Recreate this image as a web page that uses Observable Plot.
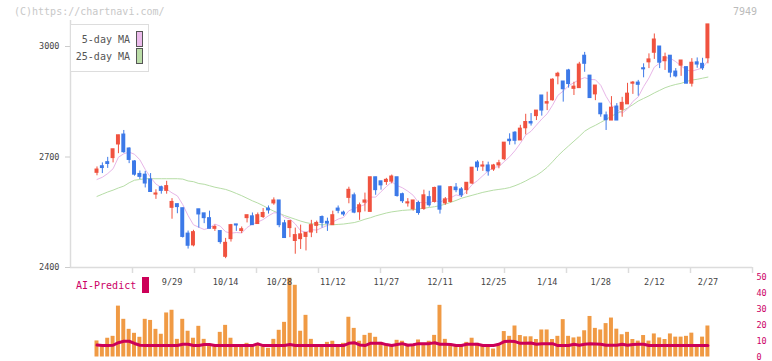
<!DOCTYPE html>
<html><head><meta charset="utf-8">
<script src="https://cdn.jsdelivr.net/npm/d3@7"></script>
<script src="https://cdn.jsdelivr.net/npm/@observablehq/plot@0.6"></script>
<style>
body{margin:0;background:#fff;}
#wrap{position:relative;width:772px;height:361px;overflow:hidden;background:#fff;font-family:"DejaVu Sans Mono",monospace;}
#wrap svg{position:absolute;left:0;overflow:visible;}
.abs{position:absolute;white-space:nowrap;line-height:1;}
</style></head><body><div id="wrap"></div>
<script>
const dates = ["9/5","9/8","9/9","9/10","9/11","9/12","9/16","9/17","9/18","9/19","9/22","9/24","9/25","9/26","9/29",
"9/30","10/1","10/2","10/3","10/6","10/7","10/8","10/9","10/10","10/14",
"10/15","10/16","10/17","10/20","10/21","10/22","10/23","10/24","10/27","10/28",
"10/29","10/30","10/31","11/4","11/5","11/6","11/7","11/10","11/11","11/12",
"11/13","11/14","11/17","11/18","11/19","11/20","11/21","11/25","11/26","11/27",
"11/28","12/1","12/2","12/3","12/4","12/5","12/8","12/9","12/10","12/11",
"12/12","12/15","12/16","12/17","12/18","12/19","12/22","12/23","12/24","12/25",
"12/26","12/29","12/30","1/5","1/6","1/7","1/8","1/9","1/13","1/14",
"1/15","1/16","1/19","1/20","1/21","1/22","1/23","1/26","1/27","1/28",
"1/29","1/30","2/2","2/3","2/4","2/5","2/6","2/9","2/10","2/12",
"2/13","2/16","2/17","2/18","2/19","2/20","2/24","2/25","2/26","2/27"];
const labelDates = ["9/29","10/14","10/28","11/12","11/27","12/11","12/25","1/14","1/28","2/12","2/27"];

const open = [2657,2675,2686,2697,2734,2761,2723,2688,2654,2652,2639,2598,2618,2608,2562,
2572,2561,2492,2460,2558,2547,2534,2505,2499,2429,
2477,2517,2499,2534,2539,2518,2537,2560,2574,2582,
2520,2507,2472,2477,2483,2495,2513,2537,2524,2515,
2560,2549,2589,2596,2550,2576,2551,2645,2634,2632,
2633,2645,2599,2574,2558,2575,2559,2591,2578,2620,
2574,2578,2617,2612,2610,2628,2685,2674,2677,2666,
2677,2694,2747,2766,2745,2778,2795,2811,2867,2845,
2854,2919,2905,2935,2885,2887,2975,2921,2870,2845,
2813,2799,2837,2828,2843,2899,2902,2941,2957,2983,
3000,2960,2975,2932,2948,2944,2899,2957,2953,2968];
const high = [2673,2684,2699,2721,2759,2772,2725,2690,2662,2661,2655,2611,2621,2634,2587,
2572,2561,2499,2501,2558,2547,2553,2515,2499,2479,
2517,2517,2510,2542,2548,2548,2560,2567,2589,2582,
2528,2526,2507,2515,2494,2528,2526,2540,2534,2553,
2567,2553,2618,2602,2575,2602,2645,2645,2634,2642,
2651,2645,2602,2587,2582,2580,2610,2607,2618,2620,
2590,2620,2628,2617,2630,2671,2690,2688,2686,2680,
2691,2739,2763,2769,2786,2816,2818,2826,2867,2876,
2912,2930,2905,2938,2903,2957,2984,2921,2894,2845,
2822,2864,2845,2862,2900,2905,2908,2953,2980,3034,
3000,2982,2975,2940,2962,2944,2967,2969,2968,3060];
const low = [2649,2655,2669,2684,2709,2710,2682,2648,2639,2616,2605,2585,2599,2599,2531,
2546,2480,2450,2456,2507,2519,2505,2498,2463,2424,
2469,2498,2492,2521,2515,2518,2533,2545,2569,2508,
2480,2481,2436,2449,2445,2481,2492,2507,2498,2515,
2546,2539,2573,2546,2528,2551,2551,2596,2610,2623,
2627,2591,2574,2564,2553,2542,2555,2564,2575,2545,
2569,2575,2603,2590,2598,2625,2661,2661,2648,2661,
2668,2690,2732,2733,2745,2760,2784,2799,2811,2826,
2852,2896,2849,2887,2867,2887,2930,2860,2853,2808,
2772,2799,2799,2808,2843,2870,2865,2915,2940,2965,
2940,2935,2915,2915,2919,2899,2890,2941,2935,2953];
const close = [2666,2670,2681,2721,2759,2713,2692,2652,2646,2628,2605,2601,2608,2621,2578,
2564,2483,2459,2496,2544,2534,2505,2510,2469,2467,
2515,2514,2504,2542,2515,2542,2548,2555,2582,2515,
2480,2526,2488,2490,2494,2515,2521,2521,2519,2542,
2554,2544,2611,2549,2569,2582,2645,2610,2623,2638,
2647,2594,2580,2577,2582,2548,2596,2569,2616,2557,
2585,2618,2610,2596,2630,2671,2672,2677,2661,2677,
2683,2739,2743,2744,2777,2795,2791,2826,2826,2849,
2910,2926,2884,2898,2891,2951,2953,2860,2894,2816,
2800,2834,2799,2847,2872,2902,2896,2938,2965,3019,
2956,2971,2929,2919,2962,2899,2956,2951,2941,3060];
const ma5Head = [2639,2645,2655,2668];
const ma25 = [2593,2599,2605,2610,2616,2621,2630,2637,2639,2641,2641,2641,2641,2641,2641,
2641,2640,2635,2633,2628,2626,2622,2618,2615,2612,
2607,2601,2595,2588,2581,2575,2568,2560,2553,2547,
2541,2536,2531,2526,2522,2519,2517,2516,2516,2516,
2517,2518,2520,2522,2526,2531,2535,2540,2544,2548,
2551,2553,2555,2556,2557,2559,2561,2563,2565,2568,
2572,2577,2582,2588,2592,2596,2600,2604,2607,2610,
2612,2614,2617,2622,2628,2635,2643,2650,2660,2672,
2687,2703,2717,2730,2743,2756,2770,2779,2786,2794,
2802,2811,2818,2825,2833,2842,2852,2859,2866,2874,
2881,2888,2893,2897,2900,2905,2909,2911,2914,2917];
const volume = [10.1,7.5,11.8,13,32,23.7,17.4,14.9,12.4,23.7,23,17.4,14.3,27.7,29.4,
11.1,23.7,16.2,11.8,19.3,11.1,8,6.9,15.5,19.9,
11.8,6.9,6.9,8.6,6.9,8.6,6.5,5.5,11.1,16.8,
21.8,49.5,45.1,16.2,26.2,11.1,6.9,6.9,9.2,9.9,
6.9,8.6,25,18,9.9,13.6,14.9,12.4,9.2,7.5,
6.9,10.5,9.9,8,6.9,10.7,8.6,9.9,13.6,32.5,
11.1,6.9,6.9,6.9,9.2,11.8,8.6,6.9,6.9,5,
8,16,13,19.5,13.5,12.7,12.7,11,17,17,
11,13,23.5,13,12,12.5,16.5,25.5,18,17,
21,24.5,17.5,14,15.5,11,10,13.5,10,14.5,
12,11,14.5,12.5,12.5,13,15,7,12.5,19.5];
const aiPredict = [7.5,7.2,7.2,7.4,9.0,9.9,9.9,8.5,7.4,7.2,7.2,7.2,7.2,7.2,7.2,
7.2,8.0,8.0,7.2,7.2,7.8,7.8,7.2,7.2,7.2,
7.2,7.2,7.2,7.2,7.2,8.3,7.2,7.2,7.2,7.2,
7.2,7.8,7.2,7.2,7.2,7.2,7.2,7.2,7.2,7.2,
7.2,7.2,8.6,9.0,7.6,7.2,8.6,8.6,8.6,7.8,
7.2,7.8,8.4,7.4,7.7,8.4,8.4,8.4,9.0,8.0,
8.0,7.9,7.2,7.2,8.0,8.0,8.0,7.2,7.2,7.2,
8.0,9.7,9.9,9.7,8.6,8.6,8.8,8.0,8.4,8.4,
8.4,7.2,7.2,7.2,8.0,7.4,8.0,8.4,8.2,8.0,
7.4,7.4,7.4,8.0,7.4,7.8,8.0,8.0,7.2,7.2,
7.2,7.2,7.2,7.2,7.2,7.2,7.2,7.2,7.2,7.2];
const priceTicks = [2400,2700,3000];
const volumeTicks = [0,10,20,30,40,50];

const UP = "#f0523f", DOWN = "#3c79e8";
const ma5 = close.map((c,i)=> i<4 ? ma5Head[i] : d3.mean(close.slice(i-4,i+1)));
const rows = dates.map((d,i)=>({i, date:d, o:open[i], h:high[i], l:low[i], c:close[i],
  v:volume[i], ai:aiPredict[i], ma5:ma5[i], ma25:ma25[i]}));
const ups = rows.filter(r=>r.c>=r.o), downs = rows.filter(r=>r.c<r.o);
const xDomain = [-4.945, 122.32];
const hw = 0.37;
const gridTicks = d3.range(1,12).map(k=> xDomain[0] + k*(xDomain[1]-xDomain[0])/11);
const labelIdx = labelDates.map(d=>dates.indexOf(d));
const font = "DejaVu Sans Mono";

const main = Plot.plot({
  width:772, height:290, marginLeft:70, marginRight:20, marginTop:20, marginBottom:23,
  x:{domain:xDomain}, y:{domain:[2400,3070.6]},
  style:{fontFamily:font, fontSize:"8px", background:"transparent", overflow:"visible"},
  marks:[
    Plot.ruleY([2400],{stroke:"#dcdcdc", strokeWidth:1.5}),
    Plot.ruleX([xDomain[0]],{stroke:"#dcdcdc", strokeWidth:1.5}),
    Plot.axisY(priceTicks,{tickSize:5, tickPadding:6, tickFormat:d=>String(d), label:null, stroke:"#cccccc", fill:"#444", fontSize:8.5}),
    Plot.axisX(gridTicks,{tickSize:6, tickFormat:()=>"", label:null, stroke:"#dcdcdc", strokeWidth:1.5}),
    Plot.axisX(labelIdx,{tickSize:0, tickPadding:11, tickFormat:i=>dates[i], label:null, fill:"#444", fontSize:8.5}),
    Plot.line(rows,{x:"i", y:"ma25", stroke:"#b6dda6", strokeWidth:1}),
    Plot.line(rows,{x:"i", y:"ma5", stroke:"#e8b6e8", strokeWidth:1}),
    Plot.ruleX(ups,{x:"i", y1:"l", y2:"h", stroke:UP, strokeWidth:1}),
    Plot.ruleX(downs,{x:"i", y1:"l", y2:"h", stroke:DOWN, strokeWidth:1}),
    Plot.rect(ups,{x1:d=>d.i-hw, x2:d=>d.i+hw, y1:"o", y2:"c", fill:UP, insetTop:-0.5, insetBottom:-0.5}),
    Plot.rect(downs,{x1:d=>d.i-hw, x2:d=>d.i+hw, y1:"o", y2:"c", fill:DOWN, insetTop:-0.5, insetBottom:-0.5})
  ]
});
main.style.top = "0px";

const vol = Plot.plot({
  width:772, height:93, marginLeft:70, marginRight:20, marginTop:10, marginBottom:3.5,
  x:{domain:xDomain, axis:null}, y:{domain:[0,50]},
  style:{fontFamily:font, fontSize:"8px", background:"transparent", overflow:"visible"},
  marks:[
    Plot.rectY(rows,{x1:d=>d.i-hw, x2:d=>d.i+hw, y:"v", fill:"#f09a44"}),
    Plot.line(rows,{x:"i", y:"ai", stroke:"#cc0058", strokeWidth:3}),
    Plot.axisY(volumeTicks,{anchor:"right", tickSize:0, tickPadding:4, label:null, tickFormat:d=>String(d), fill:"#cc0066", fontSize:8.5})
  ]
});
vol.style.top = "267px";

const wrap = document.getElementById("wrap");
wrap.appendChild(vol);
wrap.appendChild(main);

function addText(txt, css){ const d=document.createElement("div"); d.className="abs"; d.textContent=txt; Object.assign(d.style,css); wrap.appendChild(d); return d;}
function addBox(css){ const d=document.createElement("div"); d.className="abs"; Object.assign(d.style,css); wrap.appendChild(d); return d;}

addText("(C)https://chartnavi.com/",{left:"14px", top:"7px", fontSize:"10px", color:"#c8c8c8"});
addText("7949",{right:"15px", top:"7px", fontSize:"10px", color:"#bbbbbb"});
// legend
addBox({left:"70px", top:"24px", width:"77px", height:"46px", border:"1px solid #dddddd", background:"#fff"});
addText("5-day MA",{right:(772-130)+"px", top:"35px", fontSize:"10px", color:"#555"});
addText("25-day MA",{right:(772-130)+"px", top:"52px", fontSize:"10px", color:"#555"});
addBox({left:"136px", top:"31px", width:"5px", height:"14px", border:"1px solid #555", background:"#ebbbeb"});
addBox({left:"136px", top:"48px", width:"5px", height:"14px", border:"1px solid #555", background:"#bbdda8"});
// AI label
addText("AI-Predict",{left:"76px", top:"281px", fontSize:"10px", color:"#cc0066"});
addBox({left:"142px", top:"277px", width:"7px", height:"16px", background:"#cc0058"});
</script></body></html>
